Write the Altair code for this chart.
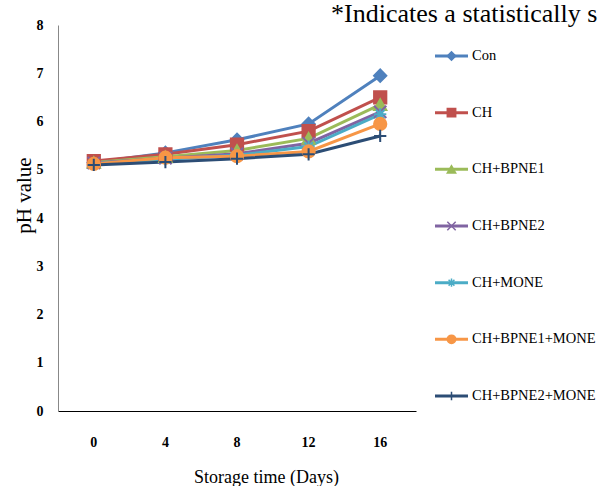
import altair as alt
import pandas as pd

# Storage days and mean pH per treatment
days = [0, 4, 8, 12, 16]
series = ["Con", "CH", "CH+BPNE1", "CH+BPNE2", "CH+MONE", "CH+BPNE1+MONE", "CH+BPNE2+MONE"]
ph_con = [5.15, 5.35, 5.62, 5.95, 6.95]
ph_ch = [5.18, 5.32, 5.52, 5.80, 6.50]
ph_bpne1 = [5.15, 5.27, 5.40, 5.65, 6.35]
ph_bpne2 = [5.14, 5.24, 5.33, 5.55, 6.20]
ph_mone = [5.13, 5.22, 5.30, 5.48, 6.15]
ph_bpne1_mone = [5.12, 5.25, 5.28, 5.38, 5.95]
ph_bpne2_mone = [5.10, 5.16, 5.23, 5.32, 5.70]
# Standard deviations (error bars)
sd = [0.06, 0.07, 0.07, 0.08, 0.09]

note_text = "*Indicates a statistically s"

colors = ["#4F81BD", "#C0504D", "#9BBB59", "#8064A2", "#4BACC6", "#F79646", "#2C4D75"]
shapes = [
    "diamond",
    "square",
    "triangle-up",
    "M-1,-1L1,1M-1,1L1,-1",
    "M-1,0L1,0M0,-1L0,1M-0.7,-0.7L0.7,0.7M-0.7,0.7L0.7,-0.7",
    "circle",
    "M-1,0L1,0M0,-1L0,1",
]
filled = [True, True, True, False, False, True, False]

values = [ph_con, ph_ch, ph_bpne1, ph_bpne2, ph_mone, ph_bpne1_mone, ph_bpne2_mone]
rows = []
for name, vals in zip(series, values):
    for d, v, s in zip(days, vals, sd):
        rows.append({"series": name, "day": str(d), "ph": v, "lo": v - s, "hi": v + s})
df = pd.DataFrame(rows)

serif = "Liberation Serif"
day_order = [str(d) for d in days]
filled_names = [s for s, f in zip(series, filled) if f]

color_scale = alt.Scale(domain=series, range=colors)
shape_scale = alt.Scale(domain=series, range=shapes)

x_enc = alt.X(
    "day:O",
    sort=day_order,
    scale=alt.Scale(type="band", paddingInner=0, paddingOuter=0),
    axis=alt.Axis(
        title="Storage time (Days)",
        labelAngle=0,
        labelFont=serif,
        labelFontWeight="bold",
        labelFontSize=14,
        labelColor="#000",
        labelPadding=24,
        ticks=False,
        domainColor="#000",
        titleFont=serif,
        titleFontWeight="normal",
        titleFontSize=18,
        titleColor="#000",
        titlePadding=19,
        titleX=208,
    ),
)
y_axis = alt.Axis(
    title="pH value",
    values=list(range(0, 9)),
    grid=False,
    ticks=False,
    labelFont=serif,
    labelFontWeight="bold",
    labelFontSize=14,
    labelColor="#000",
    labelPadding=15,
    domainColor="#888",
    titleFont=serif,
    titleFontWeight="normal",
    titleFontSize=21,
    titleColor="#000",
    titlePadding=2,
    titleY=170,
)
y_scale = alt.Scale(domain=[0, 8], nice=False)

color_enc = alt.Color("series:N", scale=color_scale, legend=None)
fill_enc = alt.condition(
    alt.FieldOneOfPredicate(field="series", oneOf=filled_names),
    alt.Color("series:N", scale=color_scale, legend=None),
    alt.value("transparent"),
)

base = alt.Chart(df)

err = base.mark_rule(strokeWidth=1.2).encode(
    x=x_enc,
    y=alt.Y("lo:Q", scale=y_scale, axis=y_axis),
    y2="hi:Q",
    color=color_enc,
)

lines = base.mark_line(strokeWidth=3).encode(
    x=x_enc,
    y=alt.Y("ph:Q", scale=y_scale, axis=y_axis),
    color=color_enc,
    detail="series:N",
)

points = base.mark_point(size=150, strokeWidth=2, opacity=1).encode(
    x=x_enc,
    y=alt.Y("ph:Q", scale=y_scale),
    color=color_enc,
    shape=alt.Shape("series:N", scale=shape_scale, legend=None),
    fill=fill_enc,
)

# Footnote line at the top right
note = alt.Chart(pd.DataFrame({"t": [note_text]})).mark_text(
    font=serif, fontSize=26, align="left", baseline="alphabetic", color="#000",
).encode(x=alt.value(273), y=alt.value(-3), text="t:N")

main = alt.layer(lines, err, points, note).properties(width=358, height=386)

# Legend drawn as its own small panel: line segment + marker + label per series
leg_df = pd.DataFrame({"series": series})
leg_y = alt.Y("series:N", sort=series, scale=alt.Scale(type="point", padding=0.547), axis=None)
leg_base = alt.Chart(leg_df)
leg_line = leg_base.mark_rule(strokeWidth=3).encode(
    x=alt.value(9), x2=alt.value(42), y=leg_y, color=color_enc,
)
leg_pt = leg_base.mark_point(size=70, strokeWidth=1.5, opacity=1).encode(
    x=alt.value(25.5), y=leg_y, color=color_enc,
    shape=alt.Shape("series:N", scale=shape_scale, legend=None),
    fill=fill_enc,
)
leg_txt = leg_base.mark_text(font=serif, fontSize=14.5, align="left", baseline="middle", color="#000").encode(
    x=alt.value(46), y=leg_y, text="series:N"
)
legend = alt.layer(leg_line, leg_pt, leg_txt).properties(width=173, height=402)

chart = (
    alt.hconcat(main, legend, spacing=10, bounds="flush")
    .properties(padding={"left": 13, "top": 1, "right": 0, "bottom": 0}, background="white")
    .configure_view(strokeWidth=0, stroke="transparent")
)

chart.save("out.html", embed_options={"renderer": "svg", "actions": False})
